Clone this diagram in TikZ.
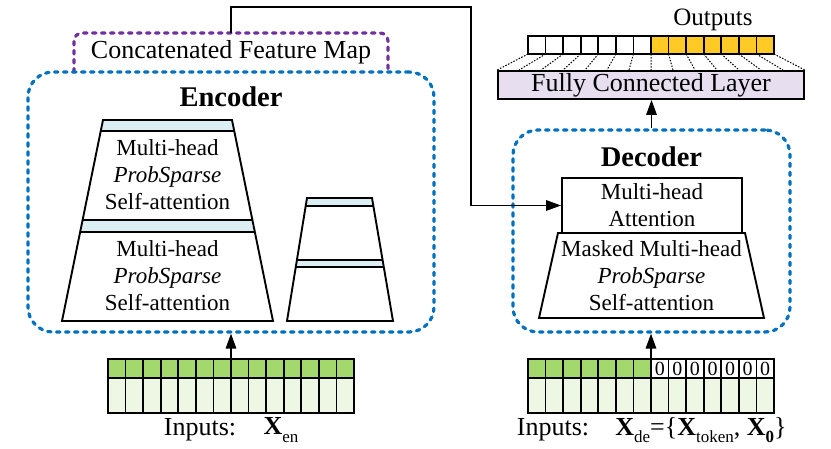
\documentclass[tikz,border=0pt]{standalone}
\usepackage{fontspec}
\setmainfont{Liberation Serif}
\usetikzlibrary{arrows.meta,calc}
\definecolor{dashblue}{HTML}{0070C0}
\definecolor{dashpurple}{HTML}{7030A0}
\definecolor{barblue}{HTML}{DAEEF3}
\definecolor{cellgreen}{HTML}{A2D86C}
\definecolor{lightgreen}{HTML}{EEF6E4}
\definecolor{outyellow}{HTML}{FFC926}
\definecolor{fclav}{HTML}{E7DFEF}
\newcommand\mylblfont{\fontsize{26}{30}\selectfont}
\newcommand\mytrapfont{\fontsize{23}{27}\selectfont}
\newcommand\myheadfont{\fontsize{28.5}{32}\selectfont\bfseries}
\newcommand\mysub[1]{\raisebox{-0.28em}{\fontsize{17}{17}\selectfont #1}}
\begin{document}
\begin{tikzpicture}[x=1pt,y=-1pt,
  bluebox/.style={draw=dashblue, line width=3.2pt, dash pattern=on 3.5pt off 5.5pt, line cap=round, rounded corners=25pt, inner sep=0pt},
  purplebox/.style={draw=dashpurple, line width=3.2pt, dash pattern=on 3.5pt off 5.5pt, line cap=round, rounded corners=8pt},
  solidshape/.style={draw=black, line width=1.9pt},
  cell/.style={draw=black, line width=1.6pt, minimum width=17.5714pt, inner sep=0pt, outer sep=0pt},
  conn/.style={draw=black, line width=1.6pt, -{Triangle[length=15pt,width=10.5pt]}},
  dots/.style={draw=black, line width=1pt, dash pattern=on 1.5pt off 1.5pt},
  lbl/.style={font=\mylblfont, inner sep=0pt},
  traptext/.style={font=\mytrapfont, align=center, inner sep=0pt}
]
\useasboundingbox (0,0) rectangle (831,448);

% Concatenated feature map (purple, open at the bottom)
\draw[purplebox] (74,72) -- (74,33) -- (388,33) -- (388,72);
\coordinate (cfmtop) at (231,33);
\node[lbl] (cfm) at (231,52) {Concatenated Feature Map};

% Encoder box
\node[bluebox, minimum width=406pt, minimum height=260pt] (enc) at (231,202) {};
\node[font=\myheadfont, inner sep=0pt] (enchead) at (231,97) {Encoder};

% Big trapezoid stack
\fill[barblue] (103,120) -- (100.76,131) -- (234.24,131) -- (232,120) -- cycle;
\fill[barblue] (82.6,220) -- (80.15,232) -- (254.85,232) -- (252.4,220) -- cycle;
\draw[solidshape] (103,120) -- (62,321) -- (273,321) -- (232,120) -- cycle;
\draw[solidshape] (100.76,131) -- (234.24,131);
\draw[solidshape] (82.6,220) -- (252.4,220);
\draw[solidshape] (80.15,232) -- (254.85,232);
\node[traptext] (att1) at (167.5,175) {Multi-head\\\textit{ProbSparse}\\Self-attention};
\node[traptext] (att2) at (167.5,276) {Multi-head\\\textit{ProbSparse}\\Self-attention};

% Small trapezoid stack
\fill[barblue] (307,198) -- (305.67,206) -- (373.33,206) -- (372,198) -- cycle;
\fill[barblue] (296.67,260) -- (295.5,267) -- (383.5,267) -- (382.33,260) -- cycle;
\draw[solidshape] (307,198) -- (287,321) -- (393,321) -- (372,198) -- cycle;
\draw[solidshape] (305.67,206) -- (373.33,206);
\draw[solidshape] (296.67,260) -- (382.33,260);
\draw[solidshape] (295.5,267) -- (383.5,267);

% Encoder inputs
\foreach \i in {0,...,13}{
  \node[cell, fill=cellgreen, minimum height=19pt] (et\i) at ({108+17.5714*(\i+0.5)},368.5) {};
  \node[cell, fill=lightgreen, minimum height=35pt] (eb\i) at ({108+17.5714*(\i+0.5)},395.5) {};
}
\draw[conn] (et6.north east) -- (et6.north east |- enc.south);
\node[lbl] (inlbl1) at (200,430) {Inputs:};
\node[lbl] (xen) at (281,430) {\textbf{X}\mysub{en}};

% Decoder box
\node[bluebox, minimum width=277pt, minimum height=202pt] (dec) at (651.5,231) {};
\node[font=\myheadfont, inner sep=0pt] (dechead) at (651.5,157) {Decoder};
\node[solidshape, traptext, minimum width=180pt, minimum height=55pt] (att) at (652,205.5) {Multi-head\\Attention};
\draw[solidshape] (558,233) -- (539,318) -- (764,318) -- (745,233) -- cycle;
\node[traptext] (att3) at (651.5,276) {Masked Multi-head\\\textit{ProbSparse}\\Self-attention};

% Decoder inputs
\foreach \i in {0,...,13}{
  \ifnum\i<7
    \node[cell, fill=cellgreen, minimum height=19pt] (dt\i) at ({528+17.5714*(\i+0.5)},368.5) {};
  \else
    \node[cell, fill=white, minimum height=19pt, font=\fontsize{20}{20}\selectfont] (dt\i) at ({528+17.5714*(\i+0.5)},368.5) {0};
  \fi
  \node[cell, fill=lightgreen, minimum height=35pt] (db\i) at ({528+17.5714*(\i+0.5)},395.5) {};
}
\draw[conn] (dt6.north east) -- (dt6.north east |- dec.south);
\node[lbl] (inlbl2) at (553,430) {Inputs:};
\node[lbl] (xde) at (701,430) {\textbf{X}\mysub{de}=\{\textbf{X}\mysub{token}, \textbf{X}\mysub{\textbf{0}}\}};

% Fully connected layer and outputs
\node[solidshape, fill=fclav, lbl, minimum width=306pt, minimum height=28pt] (fc) at (651,85) {Fully Connected Layer};
\foreach \i in {0,...,13}{
  \ifnum\i<7
    \node[cell, fill=white, minimum height=18pt] (o\i) at ({528+17.5714*(\i+0.5)},45) {};
  \else
    \node[cell, fill=outyellow, minimum height=18pt] (o\i) at ({528+17.5714*(\i+0.5)},45) {};
  \fi
}
\foreach \i in {0,...,13}{
  \draw[dots] (o\i.south west) -- ($(fc.north west)!{\i/14}!(fc.north east)$);
}
\draw[dots] (o13.south east) -- (fc.north east);
\node[font=\fontsize{25}{28}\selectfont, inner sep=0pt] (outlbl) at (713,20) {Outputs};
\draw[conn] (dec.north) -- (dec.north |- fc.south);

% Connector from feature map to decoder attention
\coordinate (turn) at (471,7);
\draw[conn] (cfmtop) |- (turn) |- (att.west);
\end{tikzpicture}
\end{document}
